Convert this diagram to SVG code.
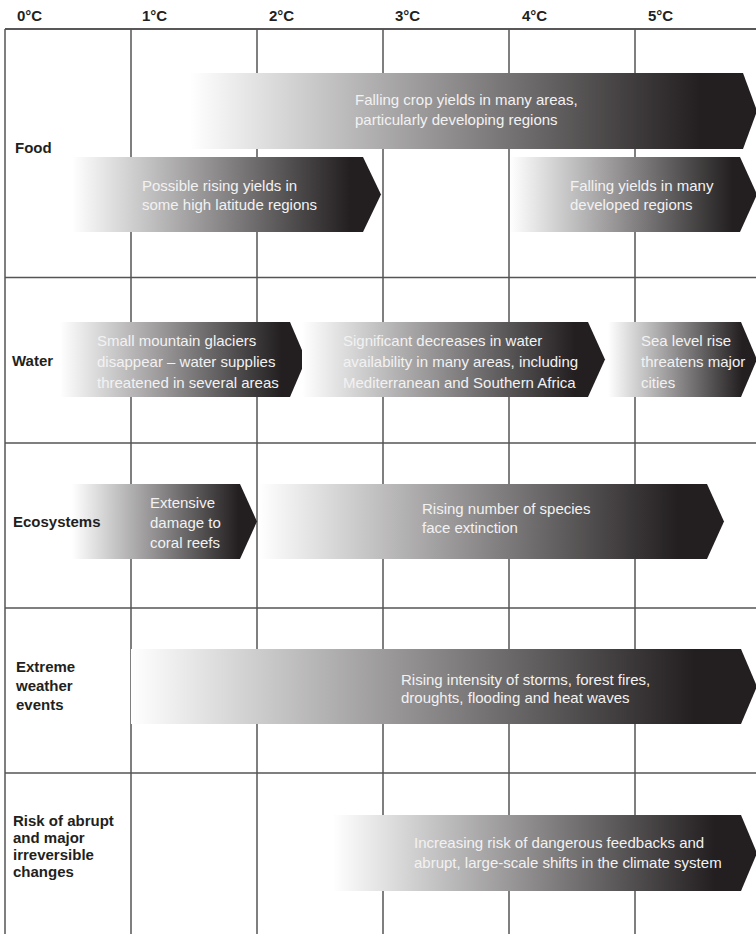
<svg xmlns="http://www.w3.org/2000/svg" width="756" height="934" viewBox="0 0 756 934">
<defs>
<linearGradient id="fade" x1="0" y1="0" x2="1" y2="0">
<stop offset="0" stop-color="#ffffff"/>
<stop offset="0.9" stop-color="#231f20"/>
<stop offset="1" stop-color="#231f20"/>
</linearGradient>
</defs>
<style>
.grid{stroke:#555;stroke-width:1.5;fill:none}
.hd{font-family:"Liberation Sans",Arial,sans-serif;font-weight:bold;font-size:15px;fill:#231f20}
.lab{font-family:"Liberation Sans",Arial,sans-serif;font-weight:bold;font-size:15px;fill:#231f20}
.arr{fill:url(#fade)}
.txt{font-family:"Liberation Sans",Arial,sans-serif;font-size:15px;fill:#f2f2f2}
</style>
<rect width="756" height="934" fill="#ffffff"/>
<g id="header">
<text class="hd" x="17" y="21">0°C</text>
<text class="hd" x="142" y="21">1°C</text>
<text class="hd" x="269" y="21">2°C</text>
<text class="hd" x="395" y="21">3°C</text>
<text class="hd" x="522" y="21">4°C</text>
<text class="hd" x="648" y="21">5°C</text>
</g>
<g id="connectors" class="grid">
<line x1="5" y1="29" x2="756" y2="29" stroke="#231f20"/>
<line x1="5" y1="277.5" x2="756" y2="277.5"/>
<line x1="5" y1="443" x2="756" y2="443"/>
<line x1="5" y1="608" x2="756" y2="608"/>
<line x1="5" y1="773" x2="756" y2="773"/>
<line x1="5" y1="29" x2="5" y2="934"/>
<line x1="131" y1="29" x2="131" y2="934"/>
<line x1="257" y1="29" x2="257" y2="934"/>
<line x1="383" y1="29" x2="383" y2="934"/>
<line x1="509" y1="29" x2="509" y2="934"/>
<line x1="635" y1="29" x2="635" y2="934"/>
</g>
<g id="food-falling-crop">
<polygon class="arr" points="190,73 743,73 757,111 743,149 190,149"/>
<text class="txt" x="355" y="105">Falling crop yields in many areas,<tspan x="355" y="125">particularly developing regions</tspan></text>
</g>
<g id="food-rising-yields">
<polygon class="arr" points="72,157 363,157 381,194.5 363,232 72,232"/>
<text class="txt" x="142" y="191">Possible rising yields in<tspan x="142" y="210">some high latitude regions</tspan></text>
</g>
<g id="food-falling-developed">
<polygon class="arr" points="510,157 740,157 757,194.5 740,232 510,232"/>
<text class="txt" x="570" y="191">Falling yields in many<tspan x="570" y="210">developed regions</tspan></text>
</g>
<g id="water-glaciers">
<polygon class="arr" points="60,322 290,322 306,359.5 290,397 60,397"/>
<text class="txt" x="97" y="346">Small mountain glaciers<tspan x="97" y="367">disappear – water supplies</tspan><tspan x="97" y="388">threatened in several areas</tspan></text>
</g>
<g id="water-decreases">
<polygon class="arr" points="302,322 588,322 605,359.5 588,397 302,397"/>
<text class="txt" x="343" y="346">Significant decreases in water<tspan x="343" y="367">availability in many areas, including</tspan><tspan x="343" y="388">Mediterranean and Southern Africa</tspan></text>
</g>
<g id="water-sea-level">
<polygon class="arr" points="608,322 741,322 757,359.5 741,397 608,397"/>
<text class="txt" x="641" y="346">Sea level rise<tspan x="641" y="367">threatens major</tspan><tspan x="641" y="388">cities</tspan></text>
</g>
<g id="eco-coral">
<polygon class="arr" points="72,484 240,484 257,521.5 240,559 72,559"/>
<text class="txt" x="150" y="508">Extensive<tspan x="150" y="528">damage to</tspan><tspan x="150" y="548">coral reefs</tspan></text>
</g>
<g id="eco-species">
<polygon class="arr" points="259,484 707,484 724,521.5 707,559 259,559"/>
<text class="txt" x="422" y="514">Rising number of species<tspan x="422" y="533">face extinction</tspan></text>
</g>
<g id="extreme-weather">
<polygon class="arr" points="131,649 741,649 757,686.5 741,724 131,724"/>
<text class="txt" x="401" y="685">Rising intensity of storms, forest fires,<tspan x="401" y="703">droughts, flooding and heat waves</tspan></text>
</g>
<g id="risk-abrupt">
<polygon class="arr" points="333,815 741,815 757,853 741,891 333,891"/>
<text class="txt" x="414" y="848">Increasing risk of dangerous feedbacks and<tspan x="414" y="868">abrupt, large-scale shifts in the climate system</tspan></text>
</g>
<g id="labels">
<text class="lab" x="15" y="153">Food</text>
<text class="lab" x="12" y="366">Water</text>
<text class="lab" x="13" y="527">Ecosystems</text>
<text class="lab" x="16" y="672">Extreme<tspan x="16" y="691">weather</tspan><tspan x="16" y="710">events</tspan></text>
<text class="lab" x="13" y="826">Risk of abrupt<tspan x="13" y="843">and major</tspan><tspan x="13" y="860">irreversible</tspan><tspan x="13" y="877">changes</tspan></text>
</g>
</svg>
